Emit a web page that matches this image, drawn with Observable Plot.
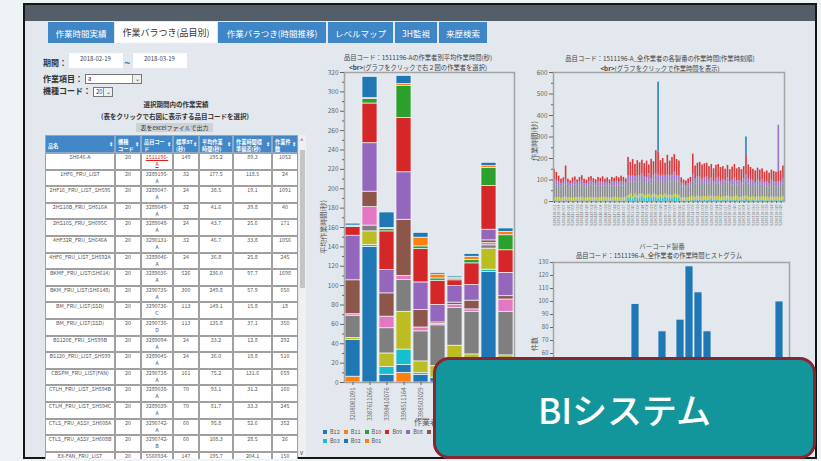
<!DOCTYPE html>
<html><head><meta charset="utf-8">
<script src="https://cdn.jsdelivr.net/npm/d3@7"></script>
<script src="https://cdn.jsdelivr.net/npm/@observablehq/plot@0.6"></script>
<style>
*{box-sizing:border-box;}
html,body{margin:0;padding:0;}
body{width:821px;height:461px;overflow:hidden;position:relative;background:#eef4f6;font-family:"Noto Sans CJK JP","Noto Sans",sans-serif;color:#333;}
.a{position:absolute;white-space:nowrap;line-height:1;}
.c{position:absolute;transform:translate(-50%,-50%);white-space:nowrap;line-height:1;}
#frame{position:absolute;left:23px;top:3px;width:794px;height:456px;border:2px solid #161616;background:#e2e8ee;}
#topbar{position:absolute;left:25px;top:5px;width:790px;height:16px;background:#535e69;}
.tab{position:absolute;top:22px;height:21px;background:#3f86c7;color:#fff;font-size:8.5px;display:flex;align-items:center;justify-content:center;white-space:nowrap;}
.tab.on{background:#fff;color:#333;font-size:9px;}
.lbl{font-size:8px;font-weight:bold;color:#333;}
.box{position:absolute;background:#fff;}
.sel{position:absolute;background:#fff;border:1px solid #777;font-size:6px;padding-left:2px;line-height:8px;}
.sel .ar{position:absolute;right:0;top:0;width:9px;height:8px;border-left:1px solid #999;background:#eee;font-size:6px;text-align:center;line-height:8px;color:#333;}
#tbl{position:absolute;left:45px;top:135px;width:254px;height:324px;overflow:hidden;}
.row{position:absolute;left:0;display:flex;}
.cell{border:1px solid #a0a0a0;background:#fff;font-size:5.3px;color:#555;text-align:center;line-height:6.9px;padding-top:0;overflow:hidden;white-space:nowrap;}
.hd .cell{background:#4288c8;color:#fff;text-align:left;font-weight:bold;padding:1.5px 1px 0 2px;position:relative;line-height:7px;font-size:5.2px;border-color:#8fa9c2;}
.hd .cell .ic{position:absolute;right:1px;top:4px;font-size:5px;}
.red{color:#e11c1c;text-decoration:underline;}
#sb{position:absolute;left:299px;top:135px;width:7px;height:322px;background:#f0f0f0;}
#sbt{position:absolute;left:300px;top:150px;width:5px;height:138px;background:#c4c4c4;}
.title{font-size:6.3px;color:#444;}
.ylab{font-size:7px;color:#555;transform:translate(-50%,-50%) rotate(-90deg);}
#legend{position:absolute;left:323px;top:427px;width:195px;display:flex;flex-wrap:wrap;}
.li{width:20.8px;height:9.2px;display:flex;align-items:center;font-size:5.5px;color:#555;}
.li i{display:inline-block;width:4px;height:4px;margin-right:3px;}
#overlay{position:absolute;left:433px;top:357px;width:383px;height:102px;border:3px solid #8a2430;border-radius:16px;background:#13969b;display:flex;align-items:center;justify-content:center;color:#fff;font-size:35px;font-weight:500;z-index:10;}
</style></head>
<body>
<div id="frame"></div>
<div id="topbar"></div>
<div class="tab" style="left:48px;width:66px;">作業時間実績</div>
<div class="tab on" style="left:115px;width:102px;">作業バラつき(品目別)</div>
<div class="tab" style="left:218px;width:108px;">作業バラつき(時間推移)</div>
<div class="tab" style="left:328px;width:65px;">レベルマップ</div>
<div class="tab" style="left:395px;width:42px;">3H監視</div>
<div class="tab" style="left:439px;width:48px;">来歴検索</div>

<div class="a lbl" style="left:43px;top:59px;">期間：</div>
<div class="box" style="left:69px;top:53px;width:54px;height:15px;"><span class="a" style="left:11px;top:3px;font-size:6px;color:#444;">2018-02-19</span></div>
<div class="a" style="left:124px;top:57px;font-size:11px;color:#3b7fc2;font-weight:bold;">~</div>
<div class="box" style="left:133px;top:53px;width:54px;height:15px;"><span class="a" style="left:11px;top:3px;font-size:6px;color:#444;">2018-03-19</span></div>
<div class="a lbl" style="left:43px;top:75px;">作業項目：</div>
<div class="sel" style="left:85px;top:74px;width:57px;height:10px;">a<span class="ar">⌄</span></div>
<div class="a lbl" style="left:43px;top:87px;">機種コード：</div>
<div class="sel" style="left:93px;top:87px;width:20px;height:10px;">20<span class="ar">⌄</span></div>
<div class="c" style="left:176px;top:104px;font-size:6.5px;font-weight:bold;">選択期間内の作業実績</div>
<div class="c" style="left:175px;top:116px;font-size:6.5px;font-weight:bold;">(表をクリックで右図に表示する品目コードを選択)</div>
<div class="a" style="left:136px;top:123px;width:77px;height:9px;background:#cdd2d7;font-size:6px;text-align:center;line-height:9px;color:#333;">表をexcelファイルで出力</div>
<div id="tbl"></div>
<div id="sb"></div><div id="sbt"></div>
<div class="a" style="left:300px;top:138px;font-size:6px;color:#444;">^</div>
<div class="a" style="left:300px;top:450px;font-size:6px;color:#444;">v</div>

<div class="c title" style="left:418px;top:58px;">品目コード：1511196-Aの作業者別平均作業時間(秒)</div>
<div class="c title" style="left:418px;top:67.5px;"><b>&lt;br&gt;</b>(グラフをクリックで右２図の作業者を選択)</div>
<div class="c ylab" style="left:323px;top:227px;">平均作業時間(秒)</div>
<div id="mid" class="a" style="left:310px;top:60px;"></div>
<div class="c" style="left:430px;top:422px;font-size:8px;color:#555;">作業者ID</div>
<div id="legend"></div>

<div class="c title" style="left:660px;top:59px;">品目コード：1511196-A_全作業者の各製番の作業時間[作業時刻順]</div>
<div class="c title" style="left:660px;top:68.5px;"><b>&lt;br&gt;</b>(グラフをクリックで作業時間を表示)</div>
<div class="c ylab" style="left:534px;top:141px;">作業時間(秒)</div>
<div id="seq" class="a" style="left:520px;top:60px;"></div>
<div class="c" style="left:662px;top:246px;font-size:6.5px;color:#555;">バーコード製番</div>

<div class="c title" style="left:659px;top:256px;">品目コード：1511196-A_全作業者の作業時間ヒストグラム</div>
<div class="c ylab" style="left:534px;top:344px;">件数</div>
<div id="hist" class="a" style="left:520px;top:252px;"></div>

<div id="overlay">BIシステム</div>

<script>
const FONT = '"Noto Sans CJK JP","Noto Sans",sans-serif';

// ---------- table ----------
const productNames = ["SH646-A","1HF6_FRU_LIST","2HF16_FRU_LIST_SH595","2HS10B_FRU_SH616A","2HS10S_FRU_SH695C","4HF32R_FRU_SH646A","4HF6_FRU_LIST_SH592A","BKMF_FRU_LIST(SH614)","BKM_FRU_LIST(SH6148)","BM_FRU_LIST(SSD)","BM_FRU_LIST(SSD)","BS120E_FRU_SH599B","BS120_FRU_LIST_SH599","CBSPM_FRU_LIST(FAN)","CTLH_FRU_LIST_SH594B","CTLM_FRU_LIST_SH594C","CTLS_FRU_ASSY_SH608A","CTLS_FRU_ASSY_SH608B","EX-FAN_FRU_LIST"];
const modelCodes = [20,20,20,20,20,20,20,20,20,20,20,20,20,20,20,20,20,20,20];
const itemCodes = ["1511196-A","3289195-A","3289047-A","3289049-A","3289048-A","3290131-A","3289046-A","3289036-A","3290735-A","3290736-C","3290736-D","3289094-A","3289045-A","3290738-A","3289038-A","3289039-A","3290742-A","3290742-B","5560934-A"];
const standardST = [149,32,24,32,24,32,24,526,300,113,113,24,24,161,70,70,60,60,147];
const avgTimes = ["195.2","177.5","38.5","41.6","43.7","46.7","36.8","236.0","249.8","149.1","135.8","33.2","36.0","75.2","93.1","81.7","95.8","108.3","195.7"];
const stdDevs = ["89.3","118.5","19.1","39.8","25.6","33.8","25.8","97.7","57.9","15.8","37.1","12.8","18.8","131.6","31.2","33.3","52.6","28.5","204.1"];
const workCounts = [1052,24,1091,40,171,1056,245,1698,650,18,350,292,510,659,160,245,352,26,150];
const headers = ["品名","機種<br>コード","品目コー<br>ド","標準ST<br>(秒)","平均作業<br>時間(秒)","作業時間標<br>準偏差(秒)","作業件<br>数"];
const colW = [70,26,32,26,34,39,26];

const tbl = document.getElementById("tbl");
const hd = document.createElement("div");
hd.className = "row hd"; hd.style.top = "0px";
headers.forEach((h,j)=>{
  const c = document.createElement("div");
  c.className = "cell"; c.style.width = colW[j]+"px"; c.style.height = "18px";
  c.innerHTML = `<span style="display:block">${h}</span><span class="ic">⇕</span>`;
  if (j===0) c.style.paddingTop = "6px";
  hd.appendChild(c);
});
tbl.appendChild(hd);
productNames.forEach((p,k)=>{
  const r = document.createElement("div");
  r.className = "row"; r.style.top = (18 + 16.6*k) + "px";
  const code = itemCodes[k].replace("-", "-<br>");
  const vals = [p, modelCodes[k], k===0 ? `<span class="red">${code}</span>` : code, standardST[k], avgTimes[k], stdDevs[k], workCounts[k]];
  vals.forEach((v,j)=>{
    const c = document.createElement("div");
    c.className = "cell"; c.style.width = colW[j]+"px"; c.style.height = "16.6px";
    c.innerHTML = v;
    r.appendChild(c);
  });
  tbl.appendChild(r);
});

// ---------- shared colours ----------
const seriesNames = ["B12","B11","B10","B09","B08","B07","B06","B05","B04","B03","B02","B01"];
const seriesColors = ["#1f77b4","#ff7f0e","#2ca02c","#d62728","#9467bd","#8c564b","#e377c2","#7f7f7f","#bcbd22","#17becf","#1f77b4","#ff7f0e"];

// ---------- middle stacked bar chart ----------
const workers = ["3208081091","3387611066","3398410076","3398511164","3398503029","3398603115","3398612047","3398704152","3398710068","3398802231"];
const B01 = [6,0,0,10,0,0,0,0,0,0];
const B02 = [38,140,8,8,7.8,5,8,10,114,5];
const B03 = [0,2,8,16,2,0,6,5,2.5,3];
const B04 = [2,14,14,39,12,12,24,14,21.7,20];
const B05 = [23,6,26,33,31,42,39,44,3.4,45];
const B06 = [1.5,19,12,4,4,1.5,3,2.5,2.3,12.7];
const B07 = [35,16,24,58,18,1.5,2.5,9,2.8,3.4];
const B08 = [46,50,24,49,28.5,18,17,16,11,24];
const B09 = [9,41,40,56,34.5,25,6,22.5,45,23.4];
const B10 = [0.5,4.5,2.5,33,2.7,2.4,1.7,3.4,18.6,15.5];
const B11 = [1,1,1,2,9,4,1.2,3.4,2,3.5];
const B12 = [2,22,16,8.5,5,1.6,1.3,2.8,3.5,3.5];
const stackSeries = {B01,B02,B03,B04,B05,B06,B07,B08,B09,B10,B11,B12};
const stackRows = [];
workers.forEach((w,i)=>{
  Object.keys(stackSeries).forEach(s=>{
    const v = stackSeries[s][i];
    if (v > 0) stackRows.push({worker:w, series:s, value:v});
  });
});

const axisStyle = {background:"transparent", fontFamily:FONT, color:"#666", overflow:"visible"};
document.getElementById("mid").appendChild(Plot.plot({
  width:210, height:372, marginLeft:34, marginRight:6, marginTop:12, marginBottom:50,
  style:axisStyle,
  x:{domain:workers, paddingInner:0.12, paddingOuter:0.04},
  y:{domain:[0,320]},
  color:{domain:seriesNames, range:seriesColors},
  marks:[
    Plot.barY(stackRows, {x:"worker", y:"value", fill:"series", stroke:"#f2f5f8", strokeWidth:0.7}),
    Plot.frame({stroke:"#a4a4a4", strokeWidth:1.5}),
    Plot.axisY({ticks:d3.range(0,321,20), tickSize:4, tickPadding:2, fontSize:6.5, label:null}),
    Plot.axisY({ticks:d3.range(10,320,20), tickSize:2, tickFormat:()=>"", label:null}),
    Plot.axisX({ticks:workers.slice(0,5), tickRotate:-90, tickSize:3, tickPadding:2, fontSize:6, label:null}),
    Plot.axisX({ticks:workers.slice(5), tickSize:3, tickFormat:()=>"", label:null})
  ]
}));

const legend = document.getElementById("legend");
const legendOrder = ["B12","B11","B10","B09","B08","B07","B06","B05","B04","B03","B02","B01"];
legendOrder.forEach(s=>{
  const d = document.createElement("div");
  d.className = "li";
  d.innerHTML = `<i style="background:${seriesColors[seriesNames.indexOf(s)]}"></i>${s}`;
  legend.appendChild(d);
});

// ---------- right top: per-barcode stacked bars ----------
const seqTotal = [150,135,118,104,110,165,104,96,110,114,100,112,120,104,99,112,116,106,101,112,
  108,115,104,110,100,112,108,116,110,118,112,105,
  205,182,195,172,190,180,192,176,188,170,196,185,236,555,190,200,178,215,188,205,218,195,188,
  110,100,96,105,112,
  220,165,178,182,170,175,178,162,172,152,168,172,158,162,150,168,148,160,172,152,158,148,162,
  300,
  170,158,150,142,155,146,152,136,142,132,146,140,136,355,142,165];
const seqCyan = [2,3,2,1,2,3,2,2,1,2,3,2,2,1,2,3,2,2,1,2,
  2,2,3,1,2,2,3,2,1,2,2,3,
  14,18,12,20,15,16,22,13,17,19,14,21,16,12,18,15,20,14,17,13,19,16,15,
  2,3,2,2,3,
  6,4,8,5,3,7,4,6,9,5,4,7,3,6,5,8,4,6,5,7,3,5,6,
  10,
  4,3,5,2,4,3,6,3,4,2,5,3,4,3,4,5];
const seqOlive = [16,15,17,14,16,18,15,16,14,17,15,16,18,14,16,15,17,16,15,14,
  16,15,17,16,14,15,17,16,15,14,16,17,
  14,16,12,15,13,17,14,16,12,15,14,13,16,15,14,12,16,15,13,14,15,16,14,
  15,16,14,15,17,
  18,16,17,15,18,16,17,19,15,16,18,17,15,16,18,17,16,15,17,18,16,15,17,
  15,
  17,16,18,15,17,16,18,16,17,15,18,16,17,16,15,18];
const seqGray = [62,58,55,52,54,56,53,50,55,57,52,54,58,51,50,55,57,53,52,56,
  55,57,52,54,50,56,53,58,55,57,54,52,
  62,58,64,55,60,57,63,59,56,62,54,60,65,66,58,61,57,64,60,63,66,59,61,
  52,48,46,50,53,
  72,60,63,65,58,62,64,56,60,52,58,62,54,57,52,60,50,56,62,52,55,50,58,
  70,
  60,56,52,50,54,51,53,48,50,46,52,50,48,50,50,58];
const seqPurple = [22,20,18,16,17,22,16,14,18,19,16,18,20,16,15,18,19,17,16,18,
  17,19,16,18,15,18,17,19,18,20,18,16,
  30,26,32,24,30,28,30,28,26,32,24,28,34,30,28,34,26,30,28,34,36,30,28,
  16,14,13,15,17,
  30,24,26,28,24,26,28,22,26,20,24,26,22,24,20,26,20,22,26,20,22,20,24,
  30,
  26,24,22,20,24,22,24,20,22,20,24,22,20,22,22,26];
const spikeBars = [45,83,97];
const spikeSeries = ["B12","B12","B08"];
const spikeValues = [325,90,215];
const barcodeTicks = ["S180219-001","S180219-014","S180220-007","S180220-021","S180221-003","S180221-018","S180222-009","S180222-025","S180223-002","S180223-016",
  "S180226-004","S180226-019","S180227-008","S180227-022","S180228-005","S180228-017","S180301-003","S180301-020","S180302-006","S180302-024",
  "S180305-002","S180305-015","S180306-009","S180306-023","S180307-004","S180307-018","S180308-007","S180308-021","S180309-001","S180309-013",
  "S180312-005","S180312-019","S180313-003","S180313-016","S180314-008","S180314-022","S180315-002","S180315-017","S180316-006","S180316-020",
  "S180319-001","S180319-004","S180319-007","S180319-010","S180319-013","S180319-016","S180319-019","S180319-022","S180319-025","S180319-028"];

const seqRows = [];
seqTotal.forEach((t,i)=>{
  const k = spikeBars.indexOf(i);
  const spike = k >= 0 ? spikeValues[k] : 0;
  const base = seqCyan[i] + seqOlive[i] + seqGray[i] + seqPurple[i];
  seqRows.push({i, series:"B03", value:seqCyan[i]});
  seqRows.push({i, series:"B04", value:seqOlive[i]});
  seqRows.push({i, series:"B05", value:seqGray[i]});
  seqRows.push({i, series:"B08", value:seqPurple[i]});
  seqRows.push({i, series:"B09", value:t - base - spike});
  if (k >= 0) seqRows.push({i, series:spikeSeries[k], value:spike});
});

document.getElementById("seq").appendChild(Plot.plot({
  width:270, height:179, marginLeft:33, marginRight:6, marginTop:12, marginBottom:38,
  style:axisStyle,
  x:{domain:d3.range(seqTotal.length), paddingInner:0.3, paddingOuter:0.1},
  y:{domain:[0,600]},
  color:{domain:seriesNames, range:seriesColors},
  marks:[
    Plot.barY(seqRows, {x:"i", y:"value", fill:"series", fillOpacity:0.9}),
    Plot.frame({stroke:"#a4a4a4", strokeWidth:1.5}),
    Plot.axisY({ticks:d3.range(0,601,100), tickSize:4, tickPadding:2, fontSize:6.5, label:null}),
    Plot.axisY({ticks:d3.range(50,600,100), tickSize:2, tickFormat:()=>"", label:null}),
    Plot.axisX({ticks:d3.range(0,seqTotal.length,2), tickFormat:i=>barcodeTicks[i/2], tickRotate:-90, tickSize:2, tickPadding:1, fontSize:3.6, label:null})
  ]
}));

// ---------- right bottom: histogram ----------
const histBins = ["0","20","40","60","80","100","120","140","160","180","200","220","240","260","280","300","320","340","360","380","400","420","440","460","480"];
const histCounts = [2,5,12,20,28,35,42,50,98,46,40,77,52,86,127,107,77,48,38,30,24,16,10,6,100];
const histRows = histBins.map((b,k)=>({bin:b, count:histCounts[k]}));
document.getElementById("hist").appendChild(Plot.plot({
  width:273, height:199, marginLeft:33, marginRight:4, marginTop:10, marginBottom:20,
  style:axisStyle,
  x:{domain:histBins, paddingInner:0.16, paddingOuter:0.06, axis:null},
  y:{domain:[0,130], axis:null},
  marks:[
    Plot.barY(histRows, {x:"bin", y:"count", fill:"#1f77b4", stroke:"#e6ecf2", strokeWidth:0.8}),
    Plot.frame({stroke:"#a4a4a4", strokeWidth:1.5}),
    Plot.axisY({ticks:d3.range(60,131,10), tickSize:3, tickPadding:2, fontSize:6, label:null}),
    Plot.axisY({ticks:d3.range(0,60,10), tickSize:3, tickFormat:()=>"", label:null})
  ]
}));
</script>
</body></html>
